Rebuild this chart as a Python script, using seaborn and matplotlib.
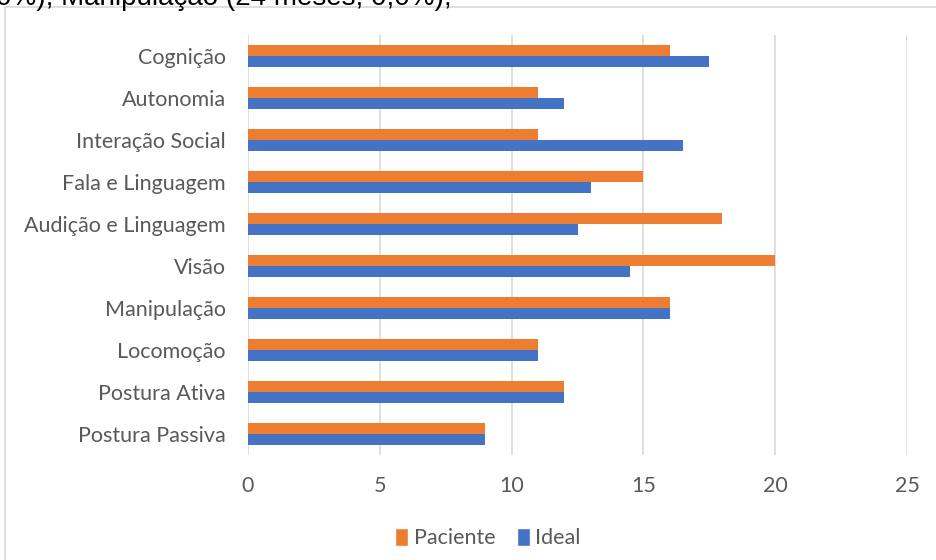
import matplotlib
matplotlib.use("Agg")
import matplotlib.pyplot as plt
from matplotlib.patches import Rectangle, Patch
import seaborn as sns
import pandas as pd

categories = ["Cognição", "Autonomia", "Interação Social", "Fala e Linguagem",
              "Audição e Linguagem", "Visão", "Manipulação", "Locomoção",
              "Postura Ativa", "Postura Passiva"]
paciente = [16, 11, 11, 15, 18, 20, 16, 11, 12, 9]
ideal = [17.5, 12, 16.5, 13, 12.5, 14.5, 16, 11, 12, 9]
series_names = ["Paciente", "Ideal"]
x_ticks = [0, 5, 10, 15, 20, 25]

df = pd.DataFrame({
    "categoria": categories * 2,
    "valor": paciente + ideal,
    "serie": [series_names[0]] * len(categories) + [series_names[1]] * len(categories),
})

sns.set_theme(style="white")
plt.rcParams["font.family"] = ["Lato", "DejaVu Sans"]

W, H = 937, 560
fig = plt.figure(figsize=(W / 100, H / 100), dpi=100)
ax = fig.add_axes([248 / W, 1 - 455 / H, (907 - 248) / W, (455 - 35) / H])

palette = {"Paciente": "#ED7D31", "Ideal": "#4472C4"}
sns.barplot(data=df, y="categoria", x="valor", hue="serie", order=categories,
            hue_order=series_names, palette=palette, orient="h", width=0.54,
            saturation=1, ax=ax, legend=False, edgecolor="none")

ax.set_xlim(0, 25)
ax.set_xticks(x_ticks)
ax.set_xlabel("")
ax.set_ylabel("")
ax.grid(axis="x", color="#D9D9D9", linewidth=1.2)
ax.set_axisbelow(True)
for s in ax.spines.values():
    s.set_visible(False)
ax.tick_params(axis="both", length=0, labelcolor="#595959", labelsize=15.5)
ax.tick_params(axis="x", pad=15)
ax.tick_params(axis="y", pad=16)

handles = [Patch(facecolor=palette[n], label=n) for n in series_names]
fig.legend(handles=handles, loc="center", bbox_to_anchor=(488 / W, 1 - 538 / H),
           ncol=2, frameon=False, fontsize=15.5, handlelength=0.6, handleheight=0.9,
           handletextpad=0.25, columnspacing=1.0, labelcolor="#595959")

# chart area frame
fig.patches.append(Rectangle((5 / W, -0.05), 1.2, 1 - 7 / H + 0.05,
                             transform=fig.transFigure, fill=False,
                             edgecolor="#D9D9D9", linewidth=1.2))

fig.text(452 / W, 1 - 5 / H, "0%); Manipulação (24 meses; 0,0%);",
         ha="right", va="baseline", fontsize=20, color="black",
         family=["Liberation Sans", "DejaVu Sans"])

fig.savefig("out.png", dpi=100, facecolor="white")
